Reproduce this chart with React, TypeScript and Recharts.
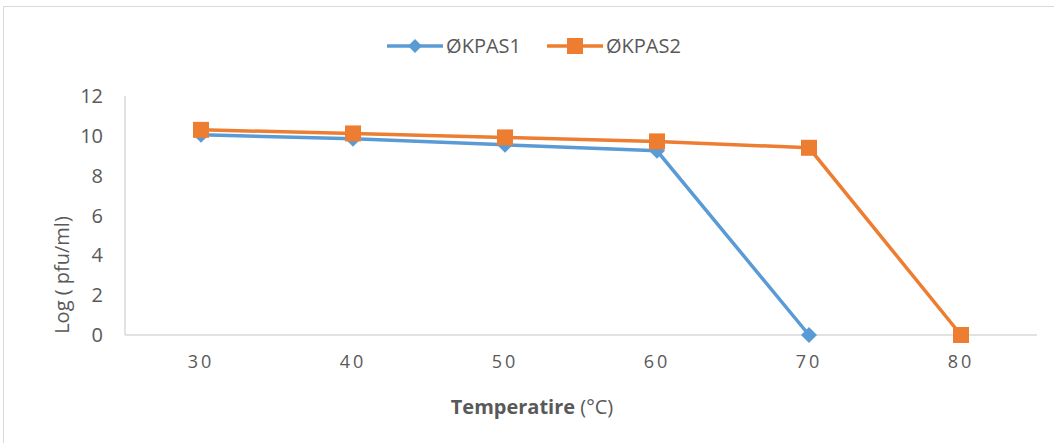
import { LineChart, Line, XAxis, YAxis, Legend, Label } from 'recharts';

const temperatures = ['30', '40', '50', '60', '70', '80'];
const kpas1 = [10.05, 9.85, 9.55, 9.25, 0, null];
const kpas2 = [10.3, 10.12, 9.92, 9.72, 9.4, 0];
const yTicks = [0, 2, 4, 6, 8, 10, 12];

const BLUE = '#5B9BD5';
const ORANGE = '#ED7D31';
const TEXT = '#595959';
const FONT = '"Open Sans", sans-serif';

const data = temperatures.map((t, i) => ({ temp: t, kpas1: kpas1[i], kpas2: kpas2[i] }));

function Diamond(props: any) {
  const { cx, cy } = props;
  if (cx == null || cy == null || props.value == null) return null;
  const r = 8;
  return <path d={`M${cx},${cy - r}L${cx + r},${cy}L${cx},${cy + r}L${cx - r},${cy}Z`} fill={BLUE} />;
}

function Square(props: any) {
  const { cx, cy } = props;
  if (cx == null || cy == null || props.value == null) return null;
  const s = 8;
  return <rect x={cx - s} y={cy - s} width={s * 2} height={s * 2} fill={ORANGE} />;
}

function LegendContent() {
  const items = [
    { name: 'ØKPAS1', color: BLUE, square: false },
    { name: 'ØKPAS2', color: ORANGE, square: true },
  ];
  return (
    <div style={{ display: 'flex', justifyContent: 'center', gap: 26, fontFamily: FONT, fontSize: 20, color: TEXT, paddingLeft: 14 }}>
      {items.map(it => (
        <div key={it.name} style={{ display: 'flex', alignItems: 'center' }}>
          <svg width={56} height={20} style={{ marginRight: 3 }}>
            <line x1={0} y1={10} x2={56} y2={10} stroke={it.color} strokeWidth={3.5} />
            {it.square
              ? <rect x={20} y={2} width={16} height={16} fill={it.color} />
              : <path d="M28,3L35,10L28,17L21,10Z" fill={it.color} />}
          </svg>
          <span>{it.name}</span>
        </div>
      ))}
    </div>
  );
}

export default function App() {
  return (
    <div style={{ position: 'absolute', left: 0, top: 0, width: 1054, height: 443, background: '#fff', overflow: 'hidden' }}>
      <div style={{ position: 'absolute', left: 3, top: 6, width: 1100, height: 500, border: '1.5px solid #D9D9D9' }} />
      <div style={{ position: 'absolute', left: 0, top: 0 }}>
        <LineChart width={1054} height={443} data={data} margin={{ top: 69, right: 17, bottom: 78, left: 65 }}>
          <Legend verticalAlign="top" content={<LegendContent />} wrapperStyle={{ top: 32, left: 0, width: 1054 }} />
          <XAxis
            dataKey="temp"
            padding={{ left: 76, right: 76 }}
            axisLine={{ stroke: '#D9D9D9', strokeWidth: 1.5 }}
            tickLine={false}
            tickSize={0}
            tickMargin={20}
            height={30}
            tick={{ fill: TEXT, fontSize: 18, fontFamily: FONT, letterSpacing: 3 }}
          >
            <Label
              content={() => (
                <text x={532} y={414} textAnchor="middle" fontFamily={FONT} fontSize={20} fill={TEXT}>
                  <tspan fontWeight="bold">Temperatire</tspan>
                  <tspan> (°C)</tspan>
                </text>
              )}
            />
          </XAxis>
          <YAxis
            domain={[0, 12]}
            ticks={yTicks}
            width={60}
            axisLine={{ stroke: '#D9D9D9', strokeWidth: 1.5 }}
            tickLine={false}
            tickSize={0}
            tickMargin={22}
            tick={{ fill: TEXT, fontSize: 20, fontFamily: FONT }}
          >
            <Label
              content={() => (
                <text x={69} y={275} transform="rotate(-90 69 275)" textAnchor="middle" fontFamily={FONT} fontSize={20} fill={TEXT}>
                  Log ( pfu/ml)
                </text>
              )}
            />
          </YAxis>
          <Line dataKey="kpas1" name="ØKPAS1" stroke={BLUE} strokeWidth={3.5} dot={<Diamond />} activeDot={false} isAnimationActive={false} />
          <Line dataKey="kpas2" name="ØKPAS2" stroke={ORANGE} strokeWidth={3.5} dot={<Square />} activeDot={false} isAnimationActive={false} />
        </LineChart>
      </div>
    </div>
  );
}
